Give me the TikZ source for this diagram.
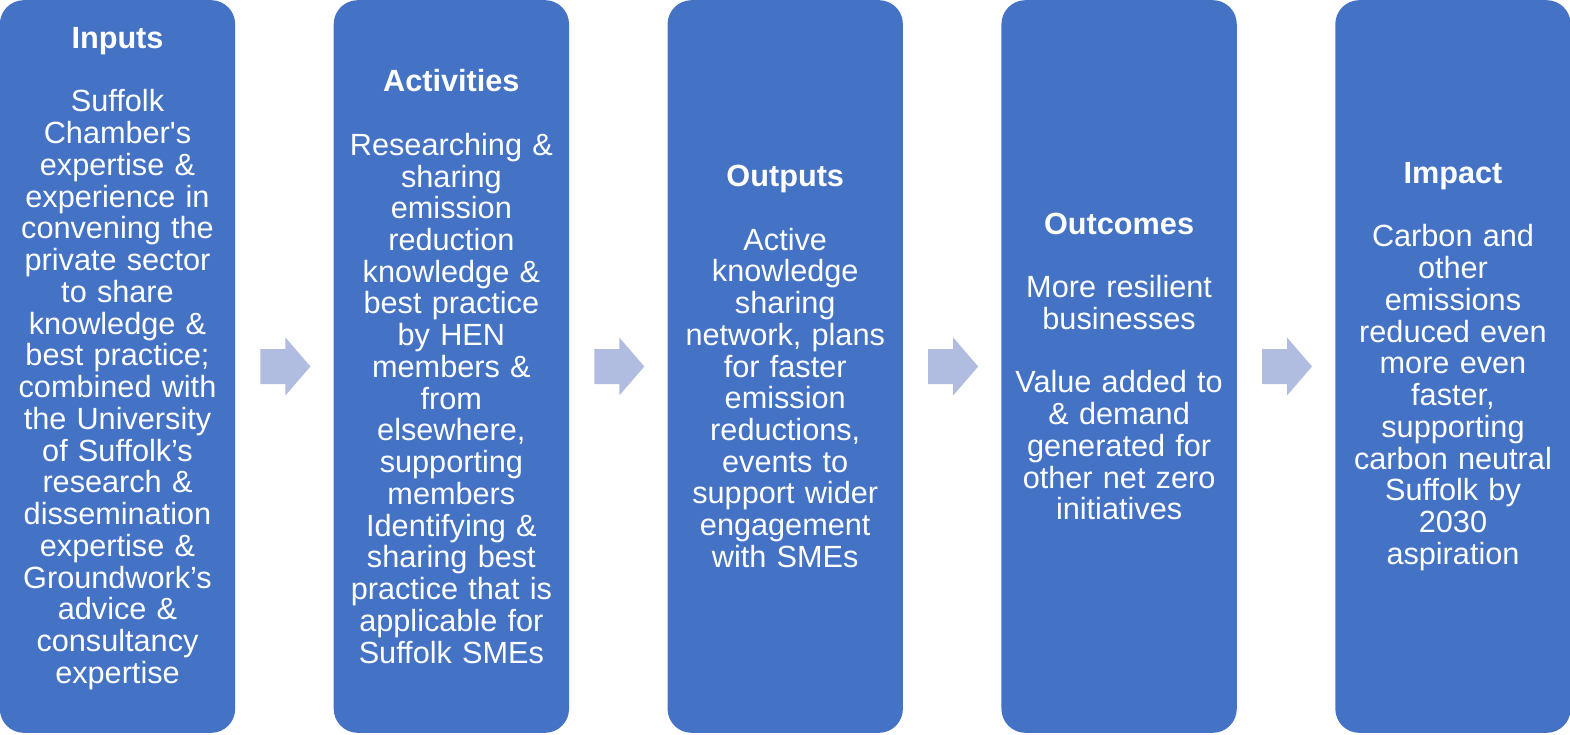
\documentclass[tikz,border=0pt]{standalone}
\usepackage{fontspec}
\setmainfont{Liberation Sans}
\usetikzlibrary{positioning, calc}
\definecolor{boxblue}{HTML}{4472C4}
\definecolor{arrowblue}{HTML}{B1BDE0}
\tikzset{
        x=0.75pt, y=-0.75pt,
        node distance=73.5pt,
        stage/.style={fill=boxblue, rounded corners=18pt, text=white,
                minimum width=176.5pt, minimum height=549.5pt, inner sep=0pt,
                text width=165pt, align=center,
                font=\fontsize{23}{23.8}\selectfont},
        flow/.style={fill=arrowblue}
        }
\newcommand{\blankline}{\\[23.8pt]}

\begin{document}
\begin{tikzpicture}
        \useasboundingbox (0,0) rectangle (1570,735);
        \node[stage](b1) at (117.5,366.5){\textbf{Inputs}\blankline Suffolk\\Chamber\textquotesingle s\\expertise \&\\experience in\\convening the\\private sector\\to share\\knowledge \&\\best practice;\\combined with\\the University\\of Suffolk’s\\research \&\\dissemination\\expertise \&\\Groundwork’s\\advice \&\\consultancy\\expertise\par\vspace*{12pt}};
        \node[stage, right=of b1](b2){\textbf{Activities}\blankline Researching \&\\sharing\\emission\\reduction\\knowledge \&\\best practice\\by HEN\\members \&\\from\\elsewhere,\\supporting\\members\\Identifying \&\\sharing best\\practice that is\\applicable for\\Suffolk SMEs};
        \node[stage, right=of b2](b3){\textbf{Outputs}\blankline Active\\knowledge\\sharing\\network, plans\\for faster\\emission\\reductions,\\events to\\support wider\\engagement\\with SMEs};
        \node[stage, right=of b3](b4){\textbf{Outcomes}\blankline More resilient\\businesses\blankline Value added to\\\& demand\\generated for\\other net zero\\initiatives};
        \node[stage, right=of b4](b5){\textbf{Impact}\blankline Carbon and\\other\\emissions\\reduced even\\more even\\faster,\\supporting\\carbon neutral\\Suffolk by\\2030\\aspiration};
        % block arrows between the stages
        \foreach \a in {b1,b2,b3,b4}
                \fill[flow] ($(\a.east)+(25,-17.5)$) -- ++(25,0) -- ++(0,-11.5) -- ++(25,29)
                        -- ++(-25,29) -- ++(0,-11.5) -- ++(-25,0) -- cycle;
\end{tikzpicture}
\end{document}
